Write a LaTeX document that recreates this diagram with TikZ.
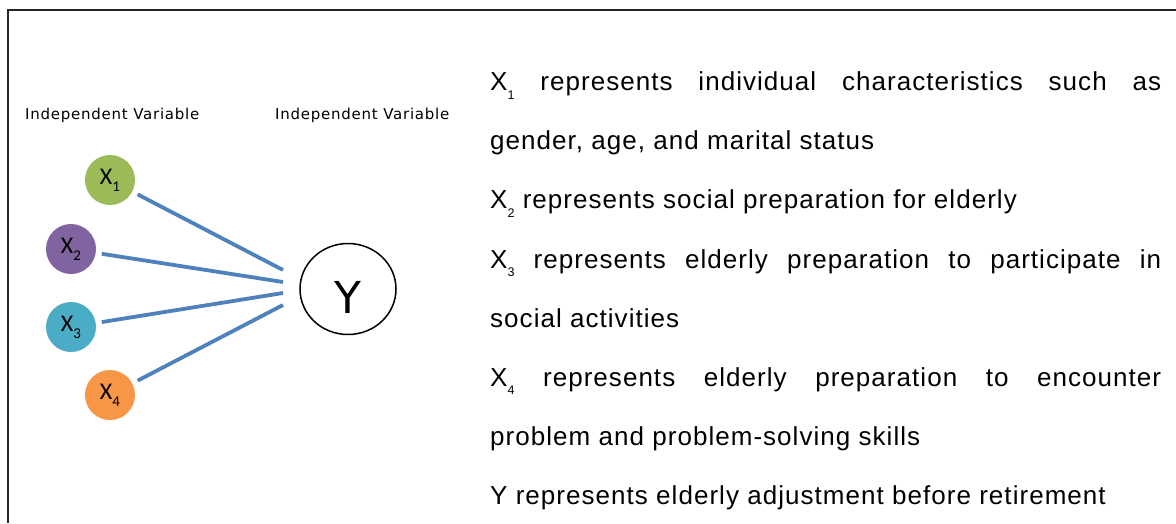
\documentclass[tikz,border=0pt]{standalone}
\usepackage{fontspec}
\usetikzlibrary{shapes.geometric}
\setmainfont{Liberation Sans}
\newfontfamily\labfont[LetterSpace=5]{DejaVu Sans}
\newfontfamily\circfont{Carlito}
\newfontfamily\yfont{DejaVu Sans}
\newfontfamily\bodyfont[LetterSpace=4]{Liberation Sans}
\newfontfamily\subfont{Liberation Sans}
\definecolor{cgreen}{HTML}{9BBB59}
\definecolor{cpurple}{HTML}{8064A2}
\definecolor{cteal}{HTML}{4BACC6}
\definecolor{corange}{HTML}{F79646}
\definecolor{cline}{HTML}{4F81BD}
\newcommand{\xs}[1]{X\raisebox{-7pt}{\fontsize{15}{15}\selectfont #1}}
\newcommand{\ts}[1]{X\raisebox{-8.6pt}{\subfont\fontsize{12.5}{12.5}\selectfont #1}}
\tikzset{
  xcirc/.style={circle, minimum size=50pt, inner sep=0pt, font=\circfont\fontsize{24}{24}\selectfont},
  conn/.style={cline, line width=3.8pt, shorten <=6pt},
  lab/.style={anchor=base west, inner sep=0pt, font=\labfont\fontsize{15}{15}\selectfont},
  body/.style={anchor=base west, inner sep=0pt, font=\bodyfont\fontsize{26}{26}\selectfont}
}
\begin{document}
\begin{tikzpicture}[x=1pt,y=-1pt]
\useasboundingbox (0,0) rectangle (1176,523);
\draw[line width=2pt, black!85] (1176,10) -- (8,10) -- (8,523);
\node[lab] (l1) at (25,119) {Independent Variable};
\node[lab] (l2) at (275,119) {Independent Variable};
\node[xcirc, fill=cgreen] (x1) at (110,180) {\xs{1}};
\node[xcirc, fill=cpurple] (x2) at (71,249) {\xs{2}};
\node[xcirc, fill=cteal] (x3) at (71,327) {\xs{3}};
\node[xcirc, fill=corange] (x4) at (110,395) {\xs{4}};
\node[ellipse, draw, line width=1.5pt, minimum width=96pt, minimum height=91pt, inner sep=0pt, font=\yfont\fontsize{44}{44}\selectfont] (y) at (348,289) {\raisebox{-24pt}[0pt][0pt]{Y}};
\coordinate (e1) at (283,270);
\coordinate (e2) at (283,282);
\coordinate (e3) at (283,293);
\coordinate (e4) at (283,305);
\draw[conn] (x1) -- (e1);
\draw[conn] (x2) -- (e2);
\draw[conn] (x3) -- (e3);
\draw[conn] (x4) -- (e4);
\node[body] (t1) at (490,90.7) {\makebox[671pt][s]{\ts{1} represents individual characteristics such as}};
\node[body] (t2) at (490,149.8) {gender, age, and marital status};
\node[body] (t3) at (490,208.9) {\ts{2} represents social preparation for elderly};
\node[body] (t4) at (490,268.1) {\makebox[671pt][s]{\ts{3} represents elderly preparation to participate in}};
\node[body] (t5) at (490,327.2) {social activities};
\node[body] (t6) at (490,386.3) {\makebox[671pt][s]{\ts{4} represents elderly preparation to encounter}};
\node[body] (t7) at (490,445.4) {problem and problem-solving skills};
\node[body] (t8) at (490,504.4) {Y represents elderly adjustment before retirement};
\end{tikzpicture}
\end{document}
